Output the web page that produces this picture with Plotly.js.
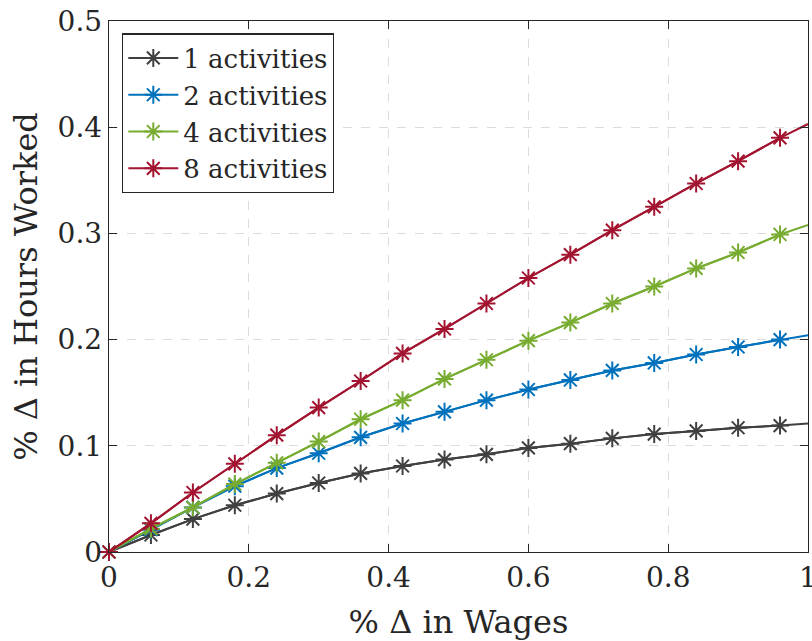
<!DOCTYPE html>
<html>
<head>
<meta charset="utf-8">
<script src="https://cdn.plot.ly/plotly-3.0.1.min.js"></script>
<style>html,body{margin:0;padding:0;background:#fff;}#chart{width:812px;height:641px;}</style>
</head>
<body>
<div id="chart"></div>
<script>
// % change in wages (x) — markers every 0.06, line ends at 1
const wages = [0, 0.06, 0.12, 0.18, 0.24, 0.30, 0.36, 0.42, 0.48, 0.54, 0.60, 0.66, 0.72, 0.78, 0.84, 0.90, 0.96, 1.00];
const seriesNames = ["1 activities", "2 activities", "4 activities", "8 activities"];
const hours1 = [0, 0.016, 0.031, 0.044, 0.055, 0.065, 0.074, 0.081, 0.087, 0.092, 0.098, 0.102, 0.107, 0.111, 0.114, 0.117, 0.119, 0.121];
const hours2 = [0, 0.021, 0.042, 0.062, 0.079, 0.093, 0.108, 0.121, 0.132, 0.143, 0.153, 0.162, 0.171, 0.178, 0.186, 0.193, 0.200, 0.204];
const hours4 = [0, 0.022, 0.042, 0.064, 0.084, 0.104, 0.125, 0.143, 0.163, 0.181, 0.199, 0.216, 0.234, 0.250, 0.267, 0.282, 0.299, 0.308];
const hours8 = [0, 0.027, 0.056, 0.083, 0.110, 0.136, 0.161, 0.187, 0.210, 0.234, 0.258, 0.280, 0.303, 0.325, 0.347, 0.368, 0.390, 0.403];
const colors = ["#404040", "#0072BD", "#77AC30", "#A2142F"];
const xTicks = [0, 0.2, 0.4, 0.6, 0.8, 1];
const xTickText = ["0", "0.2", "0.4", "0.6", "0.8", "1"];
const yTicks = [0, 0.1, 0.2, 0.3, 0.4, 0.5];
const yTickText = ["0", "0.1", "0.2", "0.3", "0.4", "0.5"];

const allSeries = [hours1, hours2, hours4, hours8];
const nMarked = 17; // markers drawn for the first 17 points (up to 0.96)
const traces = [];
allSeries.forEach((ys, i) => {
  traces.push({
    x: wages, y: ys, mode: "lines", type: "scatter",
    line: {color: colors[i], width: 2}, showlegend: false, hoverinfo: "skip"
  });
  traces.push({
    x: wages.slice(0, nMarked), y: ys.slice(0, nMarked), mode: "lines+markers", type: "scatter",
    name: seriesNames[i], cliponaxis: false,
    line: {color: colors[i], width: 2},
    marker: {symbol: "asterisk-open", size: 15, color: colors[i], line: {color: colors[i], width: 2}}
  });
});

const font = "DejaVu Serif";
const axisCommon = {
  showline: true, linecolor: "#262626", linewidth: 1.3, mirror: "ticks",
  ticks: "inside", ticklen: 8, tickwidth: 1.3, tickcolor: "#262626",
  showgrid: true, gridcolor: "#dcdcdc", griddash: "dash", gridwidth: 1,
  zeroline: false, tickfont: {family: font, size: 28, color: "#262626"},
  automargin: false, fixedrange: true, ticklabeloverflow: "allow"
};

const layout = {
  width: 812, height: 641,
  margin: {l: 109, r: 4, t: 21, b: 89},
  paper_bgcolor: "#fff", plot_bgcolor: "#fff",
  font: {family: font, color: "#262626"},
  xaxis: Object.assign({}, axisCommon, {
    range: [0, 1], tickvals: xTicks, ticktext: xTickText,
    title: {text: "% Δ in Wages", font: {family: font, size: 32, color: "#262626"}, standoff: 18}
  }),
  yaxis: Object.assign({}, axisCommon, {
    range: [0, 0.5], tickvals: yTicks, ticktext: yTickText,
    title: {text: "% Δ in Hours Worked", font: {family: font, size: 32, color: "#262626"}, standoff: 10}
  }),
  legend: {
    x: 0.0186, y: 0.977, xanchor: "left", yanchor: "top",
    bgcolor: "#fff", bordercolor: "#262626", borderwidth: 1.3,
    font: {family: font, size: 26, color: "#262626"},
    itemwidth: 50, tracegroupgap: 0
  },
  showlegend: true
};

Plotly.newPlot("chart", traces, layout, {displayModeBar: false, staticPlot: true});
</script>
</body>
</html>
